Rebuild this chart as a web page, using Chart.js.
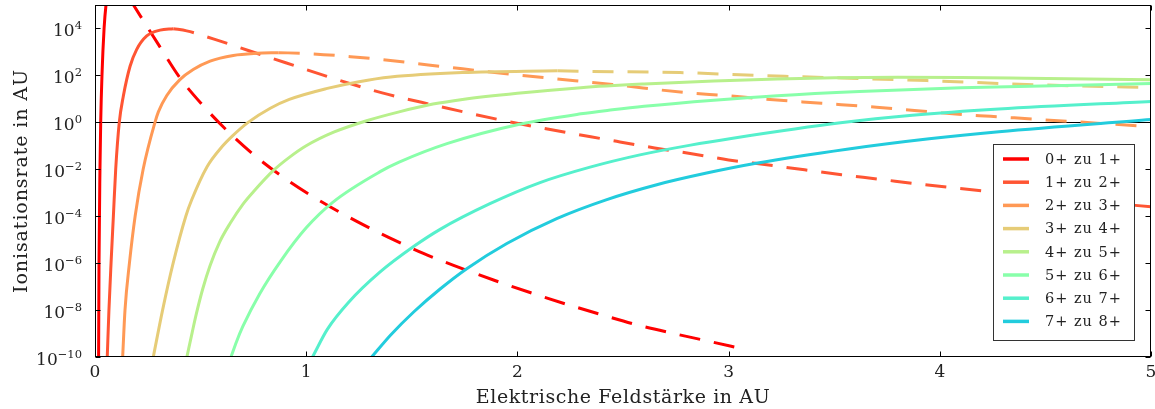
<!DOCTYPE html>
<html>
<head>
<meta charset="utf-8">
<script src="https://cdn.jsdelivr.net/npm/chart.js@4.4.0/dist/chart.umd.min.js"></script>
<style>
  html, body { margin: 0; padding: 0; background: #fff; }
  #wrap { width: 1155px; height: 409px; }
</style>
</head>
<body>
<div id="wrap"><canvas id="ionChart" width="1155" height="409"></canvas></div>
<script>
'use strict';

// transitions (legend labels)
const transitions = ['0+ zu 1+', '1+ zu 2+', '2+ zu 3+', '3+ zu 4+', '4+ zu 5+', '5+ zu 6+', '6+ zu 7+', '7+ zu 8+'];

// axis ticks and titles
const xTicks = [0, 1, 2, 3, 4, 5];
const yTicks = [1e-10, 1e-8, 1e-6, 1e-4, 1e-2, 1, 1e2, 1e4];
const xTitle = 'Elektrische Feldstärke in AU';
const yTitle = 'Ionisationsrate in AU';

// rising part (solid) and falling part after the maximum (dashed); field in AU, rate in AU
const rise0X = [0.017, 0.019, 0.0235, 0.027, 0.033, 0.043, 0.052, 0.08];
const rise0Y = [1e-10, 1e-6, 1e-2, 1, 1e2, 1e4, 1e5, 3e6];
const fall0X = [0.08, 0.18, 0.30, 0.402, 0.513, 0.608, 0.765, 0.925, 1.057, 1.235, 1.39, 1.555, 1.72, 1.89, 2.06, 2.23, 2.40, 2.57, 2.74, 2.92, 3.06];
const fall0Y = [3e6, 1.07e5, 2.1e3, 79, 5, 0.63, 3.3e-2, 2.8e-3, 5e-4, 6.3e-5, 1.26e-5, 2.6e-6, 6.8e-7, 1.86e-7, 5.6e-8, 1.8e-8, 6.3e-9, 2.3e-9, 1e-9, 4.4e-10, 2.3e-10];

const rise1X = [0.058, 0.066, 0.076, 0.087, 0.098, 0.115, 0.134, 0.166, 0.197, 0.245, 0.308, 0.371];
const rise1Y = [1e-10, 1e-8, 1e-6, 1e-4, 1e-2, 1, 12.9, 245, 1.26e3, 4.8e3, 8.5e3, 9.8e3];
const fall1X = [0.371, 0.434, 0.56, 0.726, 0.903, 1.13, 1.36, 1.59, 1.98, 2.47, 2.65, 2.825, 3.0, 3.18, 3.36, 3.535, 3.71, 3.89, 4.07, 4.24, 5];
const fall1Y = [9.8e3, 7.9e3, 3.6e3, 1.15e3, 347, 74, 18, 5.8, 0.98, 0.155, 8.1e-2, 4.6e-2, 2.5e-2, 1.55e-2, 9.5e-3, 5.8e-3, 3.8e-3, 2.4e-3, 1.6e-3, 1.12e-3, 2.5e-4];

const rise2X = [0.131, 0.142, 0.163, 0.19, 0.228, 0.284, 0.30, 0.34, 0.402, 0.465, 0.545, 0.655, 0.766, 0.87];
const rise2Y = [1e-10, 1e-8, 1e-6, 1e-4, 1e-2, 1, 2.8, 14, 66, 178, 407, 708, 871, 933];
const fall2X = [0.87, 1.0, 1.21, 1.35, 1.74, 2.11, 2.45, 2.81, 2.99, 3.16, 3.35, 3.52, 3.70, 3.88, 4.06, 4.24, 5];
const fall2Y = [933, 860, 630, 480, 190, 83, 41, 18, 13.8, 10, 7.4, 5.8, 4.4, 3.2, 2.3, 1.8, 0.66];

const rise3X = [0.276, 0.32, 0.37, 0.43, 0.458, 0.53, 0.60, 0.65, 0.725, 0.83, 0.92, 1.10, 1.25, 1.40, 1.74, 2.19];
const rise3Y = [1e-10, 1e-8, 1e-6, 1e-4, 5e-4, 1.26e-2, 8.9e-2, 0.26, 1, 4, 9.5, 28, 54, 85, 132, 158];
const fall3X = [2.19, 2.33, 2.77, 3.13, 3.31, 3.94, 4.41, 5];
const fall3Y = [158, 148, 132, 100, 89, 60, 41, 30];

const rise4X = [0.435, 0.46, 0.48, 0.51, 0.545, 0.59, 0.64, 0.70, 0.75, 0.845, 0.92, 1.0, 1.13, 1.29, 1.44, 1.60, 1.74, 2.0, 2.30, 2.6, 2.93, 3.23, 3.5, 3.8, 4.1, 4.41, 4.7, 5];
const rise4Y = [1e-10, 1.1e-9, 7e-9, 7.9e-8, 7.9e-7, 7.9e-6, 5e-5, 3.2e-4, 1.1e-3, 8.9e-3, 3.2e-2, 0.1, 0.38, 1.2, 2.8, 6, 9.5, 17.4, 30, 43, 58, 71, 79, 83, 81, 76, 71, 65];

const rise5X = [0.644, 0.67, 0.70, 0.78, 0.88, 1.0, 1.127, 1.35, 1.44, 1.67, 2.01, 2.30, 2.45, 2.6, 2.93, 3.23, 3.62, 4.10, 5];
const rise5Y = [1e-10, 4.5e-10, 2e-9, 5e-8, 1.26e-6, 3.2e-5, 4e-4, 7.9e-3, 2e-2, 0.126, 0.83, 2.3, 3.4, 4.8, 8.7, 13.5, 20.4, 29.5, 44.7];

const rise6X = [1.03, 1.1, 1.2, 1.35, 1.51, 1.634, 1.87, 2.107, 2.344, 2.58, 2.82, 3.02, 3.53, 3.87, 4.28, 5];
const rise6Y = [1e-10, 1.5e-9, 2.1e-8, 4.2e-7, 5.2e-6, 2.75e-5, 3.4e-4, 2.7e-3, 1.23e-2, 4.1e-2, 0.107, 0.21, 0.95, 2.0, 3.7, 7.8];

const rise7X = [1.31, 1.40, 1.51, 1.634, 1.76, 1.95, 2.186, 2.42, 2.66, 2.896, 3.13, 3.56, 3.95, 4.28, 5];
const rise7Y = [1e-10, 8.7e-10, 8.5e-9, 7.9e-8, 5.8e-7, 6.9e-6, 7.9e-5, 5e-4, 2.2e-3, 6.9e-3, 1.8e-2, 7.2e-2, 0.2, 0.4, 1.32];

const riseX = [rise0X, rise1X, rise2X, rise3X, rise4X, rise5X, rise6X, rise7X];
const riseY = [rise0Y, rise1Y, rise2Y, rise3Y, rise4Y, rise5Y, rise6Y, rise7Y];
const fallX = [fall0X, fall1X, fall2X, fall3X, [], [], [], []];
const fallY = [fall0Y, fall1Y, fall2Y, fall3Y, [], [], [], []];

const lineColors = ['#ff0000', '#ff5533', '#ff9955', '#e6cc77', '#b8f08c', '#88ffaa', '#55f0cc', '#22ccdd'];

const FONT = '"DejaVu Serif"';
const TEXT = '#222';

function toPoints(xs, ys) {
  return xs.map((x, i) => ({ x: x, y: ys[i] }));
}

const datasets = [];
transitions.forEach((label, i) => {
  datasets.push({
    label: label,
    data: toPoints(riseX[i], riseY[i]),
    borderColor: lineColors[i],
    borderWidth: 3,
    pointRadius: 0,
    cubicInterpolationMode: 'monotone',
    order: 20 - i
  });
  if (fallX[i].length) {
    datasets.push({
      label: label + ' (gestrichelt)',
      data: toPoints(fallX[i], fallY[i]),
      borderColor: lineColors[i],
      borderWidth: 3,
      borderDash: [21, 14],
      pointRadius: 0,
      cubicInterpolationMode: 'monotone',
      order: 20 - i
    });
  }
});

// horizontal line at 1, frame, inside ticks, y tick labels with exponents, axis titles, legend
const decorPlugin = {
  id: 'decor',
  beforeDatasetsDraw(chart) {
    const { ctx, chartArea: a, scales: { y } } = chart;
    const yy = Math.round(y.getPixelForValue(1)) + 0.5;
    ctx.save();
    ctx.strokeStyle = '#000';
    ctx.lineWidth = 1;
    ctx.beginPath();
    ctx.moveTo(a.left, yy);
    ctx.lineTo(a.right, yy);
    ctx.stroke();
    ctx.restore();
  },
  afterDraw(chart) {
    const { ctx, chartArea: a, scales: { x, y } } = chart;
    const L = Math.round(a.left) + 0.5, R = Math.round(a.right) - 0.5;
    const T = Math.round(a.top) + 0.5, B = Math.round(a.bottom) - 0.5;
    ctx.save();
    ctx.strokeStyle = '#000';
    ctx.lineWidth = 1;
    ctx.strokeRect(L, T, R - L, B - T);
    ctx.beginPath();
    xTicks.forEach(v => {
      const px = Math.round(x.getPixelForValue(v)) + 0.5;
      ctx.moveTo(px, B); ctx.lineTo(px, B - 5);
      ctx.moveTo(px, T); ctx.lineTo(px, T + 5);
    });
    yTicks.forEach(v => {
      const py = Math.round(y.getPixelForValue(v)) + 0.5;
      ctx.moveTo(L, py); ctx.lineTo(L + 5, py);
      ctx.moveTo(R, py); ctx.lineTo(R - 5, py);
    });
    ctx.stroke();

    // y tick labels: 10 with raised exponent
    ctx.fillStyle = TEXT;
    ctx.textAlign = 'right';
    ctx.textBaseline = 'alphabetic';
    yTicks.forEach(v => {
      const py = y.getPixelForValue(v);
      const exp = String(Math.round(Math.log10(v))).replace('-', '\u2212');
      ctx.font = '11.5px ' + FONT;
      const ew = ctx.measureText(exp).width;
      ctx.fillText(exp, 82, py + 0.5);
      ctx.font = '17px ' + FONT;
      ctx.fillText('10', 82 - ew, py + 7.5);
    });

    // axis titles
    ctx.font = '19px ' + FONT;
    ctx.letterSpacing = '0.6px';
    ctx.textAlign = 'center';
    ctx.fillText(xTitle, (a.left + a.right) / 2, 403);
    ctx.save();
    ctx.translate(26.5, (a.top + a.bottom) / 2);
    ctx.rotate(-Math.PI / 2);
    ctx.letterSpacing = '0.9px';
    ctx.fillText(yTitle, 0, 0);
    ctx.restore();

    // legend
    const bx = 993.5, by = 144.5, bw = 141, bh = 196;
    ctx.fillStyle = '#fff';
    ctx.fillRect(bx, by, bw, bh);
    ctx.strokeStyle = '#333';
    ctx.strokeRect(bx, by, bw, bh);
    ctx.font = '14.5px ' + FONT;
    ctx.letterSpacing = '1px';
    ctx.textBaseline = 'middle';
    ctx.textAlign = 'left';
    transitions.forEach((label, i) => {
      const ly = 159 + i * 23.2;
      ctx.strokeStyle = lineColors[i];
      ctx.lineWidth = 3.5;
      ctx.beginPath();
      ctx.moveTo(1003, ly);
      ctx.lineTo(1029, ly);
      ctx.stroke();
      ctx.fillStyle = TEXT;
      ctx.fillText(label, 1045, ly + 1);
    });
    ctx.letterSpacing = '0px';
    ctx.restore();
  }
};

Chart.defaults.font.family = 'DejaVu Serif';
Chart.defaults.color = TEXT;

new Chart(document.getElementById('ionChart'), {
  type: 'line',
  data: { datasets: datasets },
  options: {
    responsive: false,
    animation: false,
    devicePixelRatio: 1,
    layout: { padding: { top: 5, right: 4, left: 0, bottom: 0 } },
    plugins: {
      legend: { display: false },
      tooltip: { enabled: false }
    },
    scales: {
      x: {
        type: 'linear',
        min: 0,
        max: 5,
        grid: { display: false, drawTicks: false },
        border: { display: false },
        afterBuildTicks: s => { s.ticks = xTicks.map(v => ({ value: v })); },
        afterFit: s => { s.height = 52; s.paddingLeft = 0; s.paddingRight = 0; },
        ticks: { font: { size: 17 }, padding: 5, color: TEXT }
      },
      y: {
        type: 'logarithmic',
        min: 1e-10,
        max: 1e5,
        grid: { display: false, drawTicks: false },
        border: { display: false },
        afterBuildTicks: s => { s.ticks = yTicks.map(v => ({ value: v })); },
        afterFit: s => { s.width = 95; s.paddingTop = 0; s.paddingBottom = 0; },
        ticks: { display: false }
      }
    }
  },
  plugins: [decorPlugin]
});
</script>
</body>
</html>
